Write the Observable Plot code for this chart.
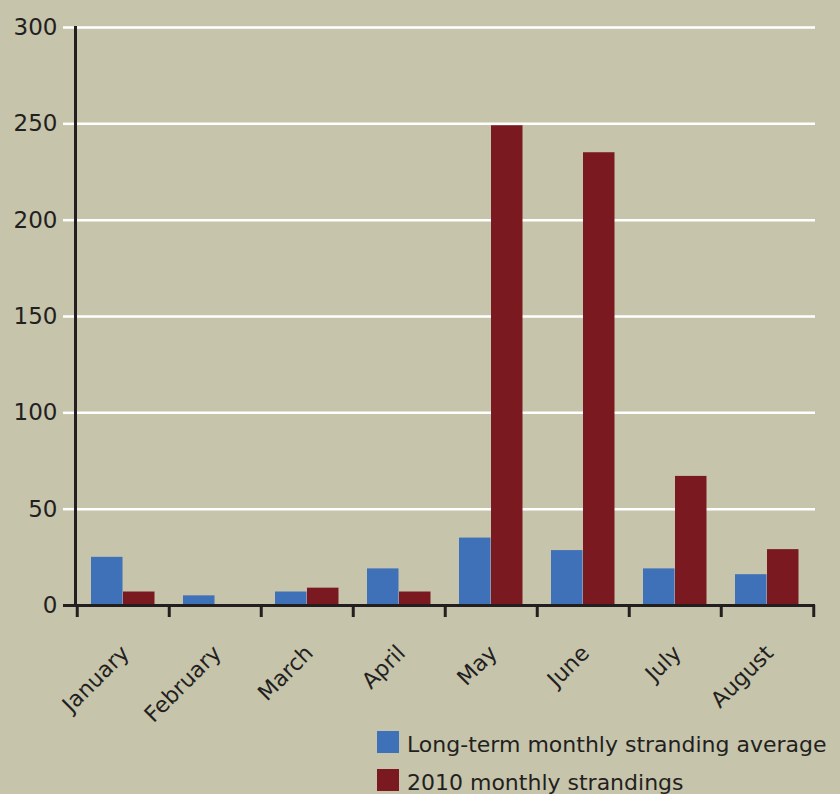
<!DOCTYPE html>
<html>
<head>
<meta charset="utf-8">
<script src="https://cdn.jsdelivr.net/npm/d3@7"></script>
<script src="https://cdn.jsdelivr.net/npm/@observablehq/plot@0.6"></script>
<style>
  html, body { margin: 0; padding: 0; background: #c6c4ab; }
  body { position: relative; width: 840px; height: 794px; overflow: hidden; font-family: "DejaVu Sans", sans-serif; color: #231f20; }
  #legend { position: absolute; left: 377px; top: 731px; font-size: 22px; }
  .row { position: relative; height: 38px; }
  .sw { position: absolute; left: 0; top: 0; width: 22px; height: 22px; }
  .lbl { position: absolute; left: 30px; top: 3px; line-height: 22px; white-space: nowrap; }
</style>
</head>
<body>
<div id="chart"></div>
<div id="legend"></div>
<script>
const months = ["January", "February", "March", "April", "May", "June", "July", "August"];
const longTermAvg = [25, 5, 7, 19, 35, 28.5, 19, 16];
const strandings2010 = [7, 0, 9, 7, 249, 235, 67, 29];
const yTicks = [0, 50, 100, 150, 200, 250, 300];
const seriesNames = ["Long-term monthly stranding average", "2010 monthly strandings"];
const seriesColors = ["#3f71b8", "#7a1a20"];

const data = months.map((m, i) => ({month: m, avg: longTermAvg[i], y2010: strandings2010[i]}));
const dark = "#231f20";

const chart = Plot.plot({
  width: 840,
  height: 726,
  marginLeft: 75,
  marginRight: 25,
  marginTop: 27,
  marginBottom: 121,
  style: {background: "transparent", fontFamily: "'DejaVu Sans', sans-serif", fontSize: "22px", color: dark, overflow: "visible"},
  x: {domain: months, padding: 0, label: null},
  y: {domain: [0, 300], label: null},
  marks: [
    Plot.gridY(yTicks, {stroke: "white", strokeOpacity: 1, strokeWidth: 2.5}),
    Plot.axisY(yTicks, {tickSize: 12, stroke: "white", strokeWidth: 2.5, tickPadding: 6, fill: dark, fontSize: 23, label: null}),
    Plot.barY(data, {x: "month", y: "avg", fill: seriesColors[0], insetLeft: 14, insetRight: 46.5}),
    Plot.barY(data, {x: "month", y: "y2010", fill: seriesColors[1], insetLeft: 46, insetRight: 14.5}),
    Plot.ruleY([0], {stroke: dark, strokeWidth: 3}),
    Plot.axisY([0], {tickSize: 12, stroke: dark, strokeWidth: 3, tickFormat: () => "", label: null}),
    Plot.frame({anchor: "left", stroke: dark, strokeWidth: 3}),
    Plot.axisX({tickSize: 12, dx: -46.25, tickFormat: () => "", stroke: dark, strokeWidth: 3, label: null}),
    Plot.axisX(["August"], {tickSize: 12, dx: 46.25, tickFormat: () => "", stroke: dark, strokeWidth: 3, label: null}),
    Plot.axisX({tickSize: 0, tickRotate: -45, tickPadding: 44, dx: 2, fill: dark, fontSize: 22, label: null})
  ]
});
document.getElementById("chart").appendChild(chart);

const legend = document.getElementById("legend");
seriesNames.forEach((name, i) => {
  const row = document.createElement("div");
  row.className = "row";
  const sw = document.createElement("div");
  sw.className = "sw";
  sw.style.background = seriesColors[i];
  const t = document.createElement("span");
  t.className = "lbl";
  t.textContent = name;
  row.appendChild(sw);
  row.appendChild(t);
  legend.appendChild(row);
});
</script>
</body>
</html>
